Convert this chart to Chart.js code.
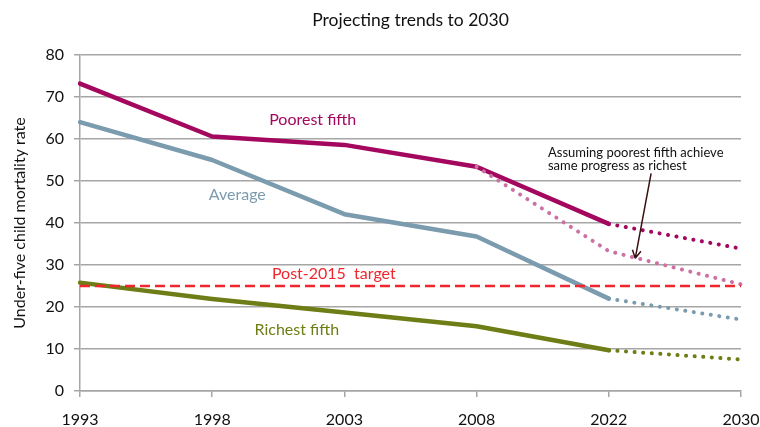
<!DOCTYPE html>
<html>
<head>
<meta charset="utf-8">
<script src="https://cdn.jsdelivr.net/npm/chart.js@4"></script>
<style>
  html, body { margin: 0; padding: 0; background: #fff; }
  #wrap { width: 760px; height: 427px; }
</style>
</head>
<body>
<div id="wrap"><canvas id="chart" width="760" height="427"></canvas></div>
<script>
const years = ["1993", "1998", "2003", "2008", "2022", "2030"]
const yTicks = [0, 10, 20, 30, 40, 50, 60, 70, 80]

const poorest       = [73.2, 60.6, 58.6, 53.4, 39.8, null]
const poorestProj   = [null, null, null, null, 39.8, 33.9]
const poorestAlt    = [null, null, null, 53.4, 33.3, 25.4]
const average       = [64.0, 55.0, 42.1, 36.8, 22.0, null]
const averageProj   = [null, null, null, null, 22.0, 17.0]
const richest       = [25.8, 21.9, 18.7, 15.4, 9.7, null]
const richestProj   = [null, null, null, null, 9.7, 7.5]
const target        = [25, 25, 25, 25, 25, 25]

const FONT = "Lato, 'DejaVu Sans', sans-serif"
const C_POOR = "#A3085E"
const C_AVG = "#7B9BAE"
const C_RICH = "#6E7D15"
const C_TARGET = "#F0262E"
const C_ALT = "#CC71A3"

function solid(data, color) {
    return { data, borderColor: color, borderWidth: 4.5, pointRadius: 0, tension: 0, borderJoinStyle: "round", borderCapStyle: "round" }
}
function dotted(data, color) {
    return { data, borderColor: color, borderWidth: 4, pointRadius: 0, tension: 0, borderCapStyle: "round", borderDash: [0.1, 8.5] }
}

// labels placed in data coordinates (x = category index, y = value)
const labels = [
    { text: "Poorest fifth", x: 1.76, y: 64.5, color: C_POOR },
    { text: "Average", x: 1.19, y: 46.6, color: C_AVG },
    { text: "Post-2015  target", x: 1.92, y: 28.0, color: C_TARGET },
    { text: "Richest fifth", x: 1.64, y: 14.5, color: C_RICH }
]

const notePlugin = {
    id: "notes",
    afterDatasetsDraw(chart) {
        const ctx = chart.ctx
        const xs = chart.scales.x, ys = chart.scales.y
        const px = v => xs.getPixelForValue(Math.floor(v)) + (v - Math.floor(v)) * (xs.getPixelForValue(1) - xs.getPixelForValue(0))
        ctx.save()
        ctx.textBaseline = "middle"
        ctx.textAlign = "center"
        ctx.font = "16px " + FONT
        labels.forEach(l => {
            ctx.fillStyle = l.color
            ctx.fillText(l.text, px(l.x), ys.getPixelForValue(l.y))
        })
        // annotation
        ctx.fillStyle = "#111"
        ctx.textAlign = "left"
        ctx.font = "13px " + FONT
        ctx.fillText("Assuming poorest fifth achieve", px(3.54), ys.getPixelForValue(56.6))
        ctx.fillText("same progress as richest", px(3.54), ys.getPixelForValue(53.5))
        // arrow
        const x1 = px(4.32), y1 = ys.getPixelForValue(51.8)
        const x2 = px(4.2), y2 = ys.getPixelForValue(31.6)
        ctx.strokeStyle = "#3a1010"
        ctx.lineWidth = 1.5
        ctx.beginPath()
        ctx.moveTo(x1, y1)
        ctx.lineTo(x2, y2)
        const a = Math.atan2(y2 - y1, x2 - x1)
        ctx.moveTo(x2, y2)
        ctx.lineTo(x2 - 9 * Math.cos(a - 0.5), y2 - 9 * Math.sin(a - 0.5))
        ctx.moveTo(x2, y2)
        ctx.lineTo(x2 - 9 * Math.cos(a + 0.5), y2 - 9 * Math.sin(a + 0.5))
        ctx.stroke()
        ctx.restore()
    }
}

new Chart(document.getElementById("chart").getContext("2d"), {
    type: "line",
    data: {
        labels: years,
        datasets: [
            { data: target, borderColor: C_TARGET, borderWidth: 2.5, pointRadius: 0, borderDash: [10, 5] },
            dotted(poorestAlt, C_ALT),
            solid(richest, C_RICH),
            dotted(richestProj, C_RICH),
            solid(average, C_AVG),
            dotted(averageProj, C_AVG),
            solid(poorest, C_POOR),
            dotted(poorestProj, C_POOR)
        ]
    },
    options: {
        responsive: false,
        animation: false,
        layout: { padding: { left: 0, right: 19, top: 0, bottom: 0 } },
        plugins: {
            legend: { display: false },
            tooltip: { enabled: false },
            title: {
                display: true,
                text: "Projecting trends to 2030",
                fullSize: false,
                color: "#111",
                font: { family: FONT, size: 17.5, weight: "normal" },
                padding: { top: 10, bottom: 24 }
            }
        },
        scales: {
            x: {
                offset: false,
                grid: { display: true, drawOnChartArea: false, drawTicks: true, tickLength: 6, color: "#A6A6A6", lineWidth: 1.5 },
                border: { color: "#A6A6A6", width: 1.5 },
                ticks: { color: "#111", font: { family: FONT, size: 16 }, padding: 13, maxRotation: 0 },
                afterFit: s => { s.height = 36; s.paddingLeft = 0; s.paddingRight = 0 }
            },
            y: {
                min: 0, max: 80,
                afterBuildTicks: s => { s.ticks = yTicks.map(v => ({ value: v })) },
                grid: { color: "#A6A6A6", lineWidth: 1.5, tickLength: 6 },
                border: { color: "#A6A6A6", width: 1.5 },
                ticks: { color: "#111", font: { family: FONT, size: 16 }, padding: 10 },
                title: { display: true, text: "Under-five child mortality rate", color: "#111", font: { family: FONT, size: 16 }, padding: { top: 10, bottom: 0 } },
                afterFit: s => { s.width = 80 }
            }
        }
    },
    plugins: [notePlugin]
})
</script>
</body>
</html>
